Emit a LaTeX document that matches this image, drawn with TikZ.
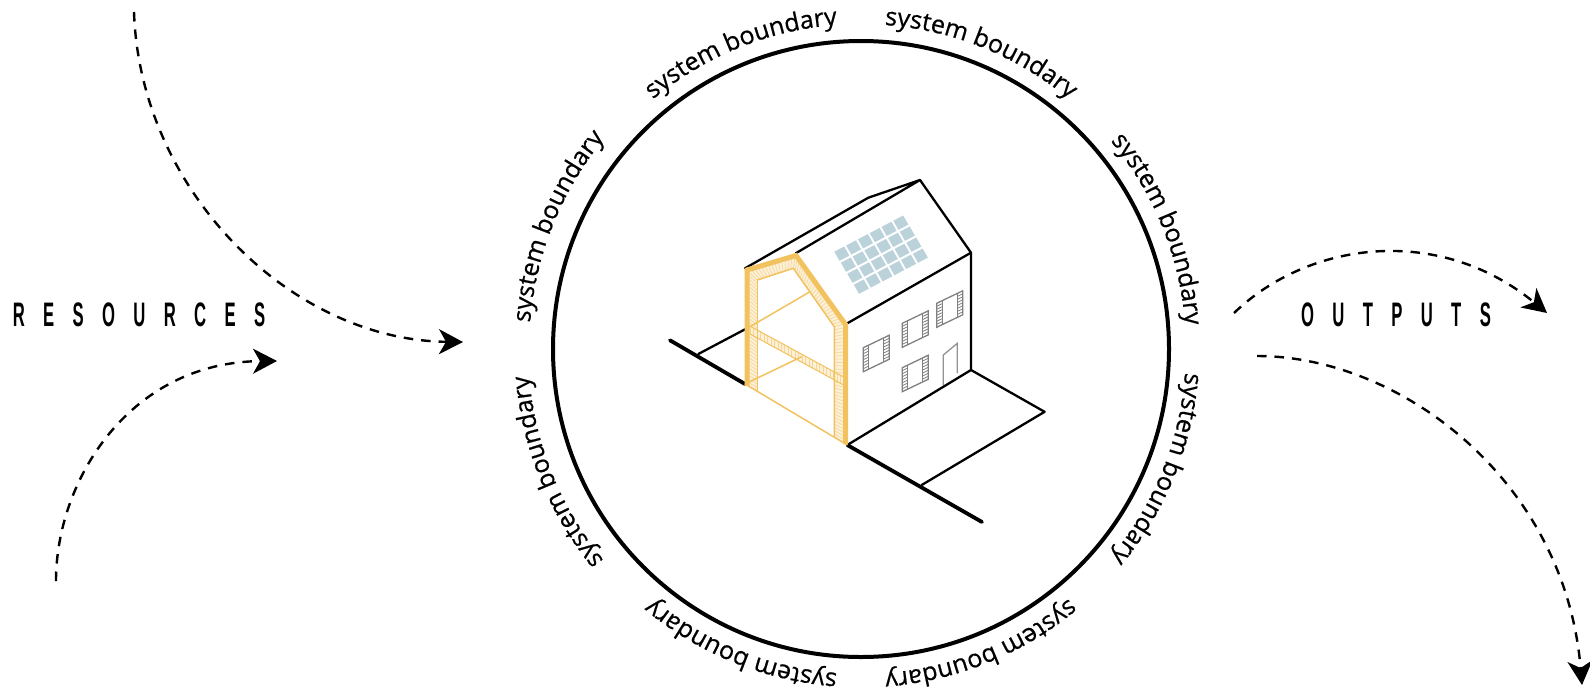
\documentclass[tikz,border=0pt]{standalone}
\usepackage{fontspec}
\setmainfont{Open Sans}
\newfontfamily\labfont[FakeBold=0.6]{Open Sans}
\newfontfamily\condfont[FakeStretch=0.49,LetterSpace=54]{Liberation Sans Bold}
\usetikzlibrary{arrows.meta,decorations.text,calc}
\definecolor{ins}{HTML}{F2C25F}
\definecolor{insl}{HTML}{FCF0D8}
\definecolor{inh}{HTML}{F6D694}
\definecolor{pv}{HTML}{BBD2DB}
\definecolor{wingray}{HTML}{808080}
\tikzset{
  blk/.style={line width=2.3pt,black,line join=round,line cap=round},
  thk/.style={line width=3.8pt,black,line cap=round},
  flow/.style={line width=2.4pt,black,dash pattern=on 9.5pt off 8pt,-{Stealth[length=24pt,width=25pt,inset=7pt]}},
  wallline/.style={line width=1.5pt,ins},
  word/.style={font=\condfont\fontsize{34}{34}\selectfont,inner sep=0pt},
  winline/.style={line width=1.3pt,wingray},
  slat/.style={line width=.8pt,wingray}
}
% hatch band: #1,#2 one side; #3,#4 other side; #5 count
\newcommand{\hatchband}[5]{%
  \fill[insl] #1 -- #2 -- #4 -- #3 -- cycle;
  \foreach \t in {0,...,#5}{
    \pgfmathsetmacro{\u}{\t/#5}
    \draw[inh,line width=.6pt] ($#1!\u!#2$) -- ($#3!\u!#4$);
  }}
% window: lower-left corner
\newcommand{\winat}[2]{%
  \begin{scope}[shift={(#1,#2)}]
    \draw[winline] (0,0) -- (26,-12.5) -- (26,-36.5) -- (0,-24) -- cycle;
    \draw[winline] (5.5,-2.7) -- (5.5,-26.7) (20.5,-9.8) -- (20.5,-33.8);
    \foreach \k in {1,...,7}{
      \draw[slat] (0,{-3*\k}) -- (5.5,{-3*\k-2.7});
      \draw[slat] (20.5,{-3*\k-9.8}) -- (26,{-3*\k-12.5});
    }
  \end{scope}}
\begin{document}
\begin{tikzpicture}[x=1pt,y=-1pt]
\useasboundingbox (0,0) rectangle (1590,691);
% system boundary
\node[circle,draw=black,line width=4pt,minimum size=616pt,inner sep=0pt] (sys) at (861,349) {};
\begin{scope}[shift={(861,349)},y=-1pt]
  \foreach \a/\r in {22/325,68/325,112/325,158/332,202/333,248/325,292/325,338/325}{
    \path[decorate,decoration={text along path,text align=center,
      text={|\labfont\fontsize{25}{25}\selectfont|system boundary}}]
      ({\r*cos(\a+21)},{-\r*sin(\a+21)}) arc[start angle=-\a-21,end angle=-\a+21,radius=\r];
  }
\end{scope}
% labels
\node[word] (res) at (139,315) {RESOURCES};
\node[word] (out) at (1396,315) {OUTPUTS};
% flows
\coordinate (a1s) at (134,12); \coordinate (a1e) at (463,342);
\coordinate (a2s) at (56,581); \coordinate (a2e) at (277,361);
\coordinate (a3s) at (1234,313); \coordinate (a3e) at (1547,313);
\coordinate (a4s) at (1257,356); \coordinate (a4e) at (1582,685);
\draw[flow] (a1s) .. controls (140,190) and (290,340) .. (a1e);
\draw[flow] (a2s) .. controls (56,480) and (130,362) .. (a2e);
\draw[flow] (a3s) .. controls (1310,240) and (1440,225) .. (a3e);
\draw[flow] (a4s) .. controls (1400,356) and (1565,480) .. (a4e);
% house points
\coordinate (apex) at (920,180);
\coordinate (bump) at (868.3,197.7);
\coordinate (rl) at (745,268.3);
\coordinate (rf) at (795.7,253.3);
\coordinate (ev) at (847.3,323.3);
\coordinate (er) at (971,252.7);
\coordinate (br) at (971,370);
\coordinate (bf) at (847.3,445);
\coordinate (bl) at (745,384);
% ground and yard
\draw[thk] (670,340.3) -- (bl);
\draw[thk] (bf) -- (982,522);
\draw[blk] (698.3,354) -- (745,329.3);
\draw[blk] (br) -- (1044.6,411.8) -- (921.7,485);
% house outline
\draw[blk] (rl) -- (bump) -- (apex) -- (rf);
\draw[blk] (apex) -- (er) -- (ev);
\draw[blk] (er) -- (br) -- (bf);
% solar panels
\foreach \c in {0,...,5}{\foreach \r in {0,...,3}{
  \fill[pv] ($(834.3,251.7)+\c*(11.8,-6.2)+\r*(6.5,11)$) -- ++(9.9,-5.2) -- ++(5.2,9.1) -- ++(-9.9,5.2) -- cycle;
}}
% windows and door
\winat{863.3}{371.7}
\winat{902.3}{347.3}
\winat{936.7}{327.3}
\winat{902.3}{391.7}
\draw[line width=1.3pt,wingray!85] (943.3,385) -- (943.3,355) -- (957.3,343.3) -- (957.3,373);
% section: insulation
\hatchband{(745,268.3)}{(745,384)}{(757.3,280)}{(757.3,391)}{32}
\hatchband{(745,268.3)}{(795.7,253.3)}{(757.3,280)}{(793.3,268.3)}{14}
\hatchband{(795.7,253.3)}{(847.3,323.3)}{(793.3,268.3)}{(834.3,326.7)}{24}
\hatchband{(847.3,323.3)}{(847.3,445)}{(834.3,326.7)}{(834.3,437)}{34}
\hatchband{(750,326)}{(847.3,379)}{(750,334)}{(847.3,387)}{28}
% section: lines
\draw[wallline] (757.3,280) -- (757.3,391);
\draw[wallline] (757.3,280) -- (793.3,268.3) -- (834.3,326.7) -- (834.3,437);
\draw[wallline] (750,326.7) -- (810,291.7);
\draw[wallline] (745,384) -- (801.7,356.7);
\draw[wallline,line width=1pt] (748,325) -- (847.3,379);
\draw[wallline,line width=1pt] (750,334) -- (847.3,387);
\draw[wallline] (bl) -- (bf);
\draw[ins,line width=5pt,line join=miter] (747,386) -- (747,270) -- (796,255.5) -- (845.5,324.5) -- (845.5,444);
\end{tikzpicture}
\end{document}
